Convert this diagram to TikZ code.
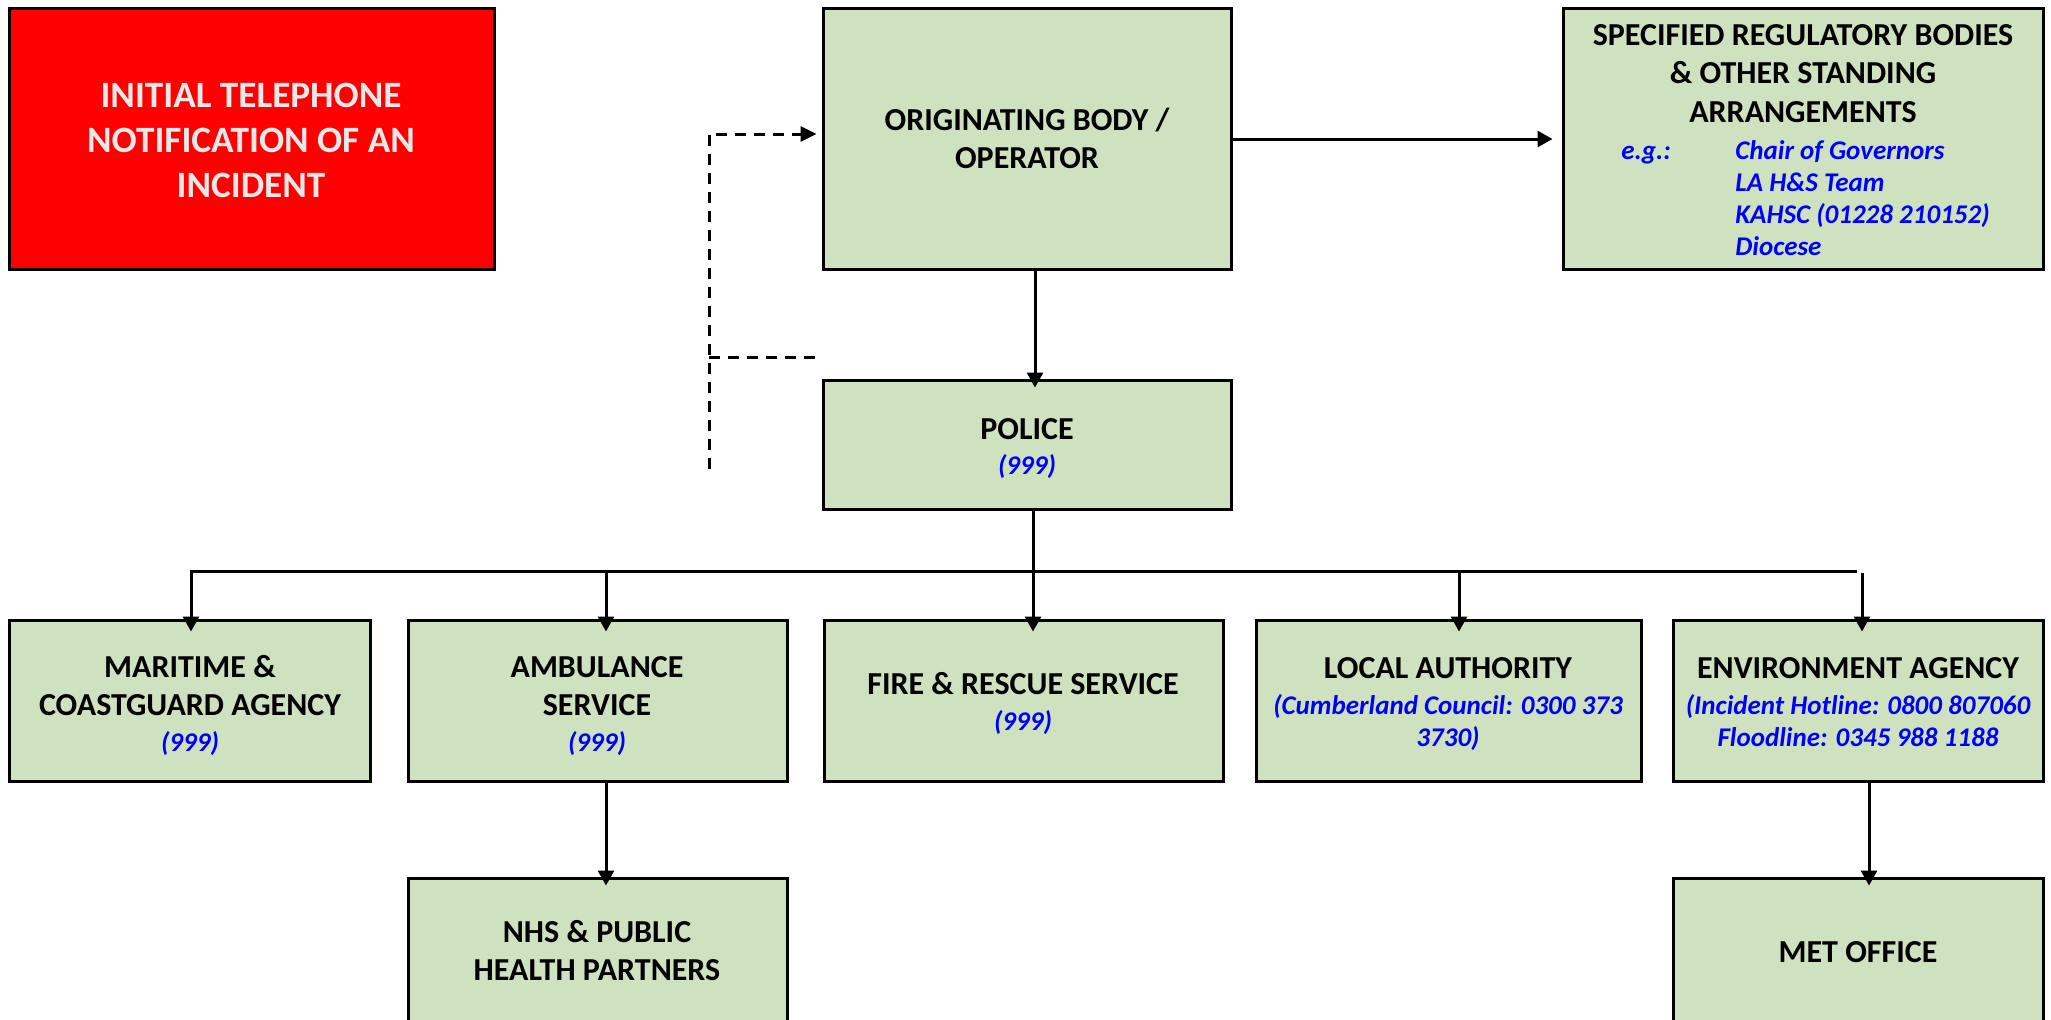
\documentclass[tikz,border=0pt]{standalone}
\usepackage{fontspec}
\setmainfont{Carlito}
\usetikzlibrary{arrows.meta,fit}
\definecolor{boxgreen}{RGB}{207,226,191}
\definecolor{alarm}{RGB}{255,0,0}
\definecolor{paletext}{RGB}{232,232,232}
\definecolor{linkblue}{RGB}{0,0,255}
\begin{document}
\begin{tikzpicture}[x=0.5pt,y=-0.5pt,
  box/.style={draw=black, line width=1.5pt, fill=boxgreen, inner sep=0pt, fit={#1}},
  redbox/.style={box={#1}, fill=alarm},
  ttl/.style={font=\fontsize{16}{19}\bfseries, inner sep=0pt, anchor=base},
  redttl/.style={font=\fontsize{18.6}{22}\bfseries, text=paletext, inner sep=0pt, anchor=base},
  sub/.style={font=\fontsize{13.5}{16}\bfseries\itshape, text=linkblue, inner sep=0pt, anchor=base},
  subw/.style={sub, anchor=base west},
  conn/.style={line width=1.5pt},
  arr/.style={conn, -{Triangle[width=8pt,length=7.5pt]}},
  dashline/.style={line width=1.5pt, dash pattern=on 5.5pt off 4pt},
  dasharr/.style={dashline, -{Triangle[width=7.5pt,length=8pt]}}]
\useasboundingbox (0,0) rectangle (2051,1019);
\clip (0,0) rectangle (2051,1019);

% boxes
\node[redbox={(9,8) (494,269)}] (red) {};
\node[box={(823,8) (1231,269)}] (orig) {};
\node[box={(1563,8) (2043,269)}] (spec) {};
\node[box={(823,380) (1231,509)}] (police) {};
\node[box={(9,620) (370,781)}] (mar) {};
\node[box={(408,620) (787,781)}] (amb) {};
\node[box={(824,620) (1223,781)}] (fire) {};
\node[box={(1256,620) (1641,781)}] (local) {};
\node[box={(1673,620) (2043,781)}] (env) {};
\node[box={(408,878) (787,1040)}] (nhs) {};
\node[box={(1673,878) (2043,1040)}] (met) {};

% texts
\node[redttl] (red1) at (251,107) {INITIAL TELEPHONE};
\node[redttl] (red2) at (251,152) {NOTIFICATION OF AN};
\node[redttl] (red3) at (251,197) {INCIDENT};

\node[ttl] (orig1) at (1027,130) {ORIGINATING BODY /};
\node[ttl] (orig2) at (1027,168) {OPERATOR};

\node[ttl] (spec1) at (1803,45) {SPECIFIED REGULATORY BODIES};
\node[ttl] (spec2) at (1803,83) {\& OTHER STANDING};
\node[ttl] (spec3) at (1803,122) {ARRANGEMENTS};
\node[subw] (eg) at (1621,159) {e.g.:};
\node[subw] (gov) at (1735,159) {Chair of Governors};
\node[subw] (lahs) at (1735,191) {LA H\&S Team};
\node[subw] (kahsc) at (1735,223) {KAHSC (01228 210152)};
\node[subw] (dio) at (1735,255) {Diocese};

\node[ttl] (pol1) at (1027,439) {POLICE};
\node[sub] (pol2) at (1027,474) {(999)};

\node[ttl] (mar1) at (190,677) {MARITIME \&};
\node[ttl] (mar2) at (190,715) {COASTGUARD AGENCY};
\node[sub] (mar3) at (190,751) {(999)};

\node[ttl] (amb1) at (597,677) {AMBULANCE};
\node[ttl] (amb2) at (597,715) {SERVICE};
\node[sub] (amb3) at (597,751) {(999)};

\node[ttl] (fire1) at (1023,694) {FIRE \& RESCUE SERVICE};
\node[sub] (fire2) at (1023,730) {(999)};

\node[ttl] (loc1) at (1448,678) {LOCAL AUTHORITY};
\node[sub] (loc2) at (1448,714) {(Cumberland Council: 0300 373};
\node[sub] (loc3) at (1448,746) {3730)};

\node[ttl] (env1) at (1858,678) {ENVIRONMENT AGENCY};
\node[sub] (env2) at (1858,714) {(Incident Hotline: 0800 807060};
\node[sub] (env3) at (1858,746) {Floodline: 0345 988 1188};

\node[ttl] (nhs1) at (597,942) {NHS \& PUBLIC};
\node[ttl] (nhs2) at (597,980) {HEALTH PARTNERS};

\node[ttl] (met1) at (1858,962) {MET OFFICE};

% connectors
\coordinate (vx) at (1035,0);
\coordinate (fx) at (1033,0);
\coordinate (busL) at (191,571);
\coordinate (busR) at (1857,571);
\coordinate (ba) at (606,571);
\coordinate (bl) at (1459,571);
\coordinate (be) at (1862,573);
\coordinate (nx) at (606,0);
\coordinate (mx) at (1869,0);
\coordinate (hy) at (0,139);
\coordinate (dtop) at (709,134);
\coordinate (dmid) at (709,357);
\coordinate (dbot) at (709,469);

\draw[arr] (orig.south -| vx) -- ([yshift=-4.5pt]police.north -| vx);
\draw[arr] (police.south -| fx) -- ([yshift=-6.5pt]fire.north -| fx);
\draw[arr] (busR) -- (busL) -- ([yshift=-6.5pt]mar.north -| busL);
\draw[arr] (ba) -- ([yshift=-6.5pt]amb.north -| ba);
\draw[arr] (bl) -- ([yshift=-6.5pt]local.north -| bl);
\draw[arr] (be) -- ([yshift=-6.5pt]env.north -| be);
\draw[arr] (amb.south -| nx) -- ([yshift=-4.5pt]nhs.north -| nx);
\draw[arr] (env.south -| mx) -- ([yshift=-4.5pt]met.north -| mx);
\draw[arr] (orig.east |- hy) -- ([xshift=-4.5pt]spec.west |- hy);
\draw[dasharr] (dbot) -- (dtop) -- ([xshift=-2.5pt]orig.west |- dtop);
\draw[dashline] (dmid) -- ([xshift=-1.5pt]orig.west |- dmid);
\end{tikzpicture}
\end{document}
